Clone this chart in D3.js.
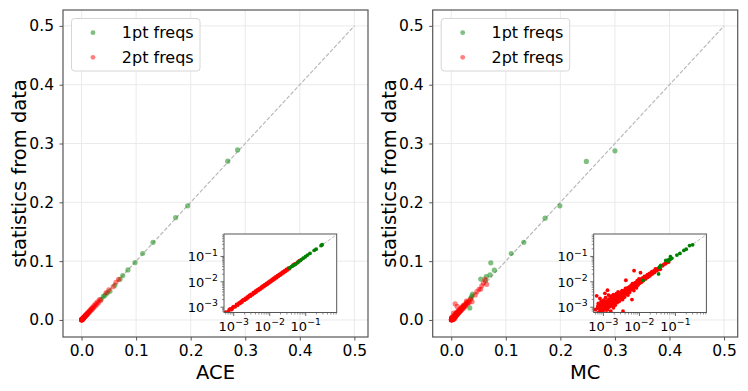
<!DOCTYPE html>
<html>
<head>
<meta charset="utf-8">
<title>ACE / MC statistics</title>
<script src="https://d3js.org/d3.v7.min.js"></script>
<style>
  body { margin: 0; background: #fff; }
  text { font-family: "DejaVu Sans", sans-serif; fill: #000; }
</style>
</head>
<body>
<script>
var w = 748, h = 391;

var ticks = [0, 0.1, 0.2, 0.3, 0.4, 0.5];
var logTicks = [1e-3, 1e-2, 1e-1];
var logTickExp = ["\u22123", "\u22122", "\u22121"];
var xLabels = ["ACE", "MC"];
var yLabel = "statistics from data";
var legendLabels = ["1pt freqs", "2pt freqs"];

// [model, data] pairs
var ace1pt = [[0.036,0.035],[0.040,0.040],[0.043,0.042],[0.047,0.046],[0.052,0.049],[0.061,0.059],
  [0.0705,0.069],[0.0755,0.0755],[0.085,0.085],[0.098,0.0975],[0.112,0.113],[0.131,0.132],
  [0.1725,0.174],[0.1945,0.194],[0.268,0.270],[0.286,0.289]];

var ace2pt = [[0.0001,0.0001],[0.0002,0.0002],[0.0003,0.0003],[0.0004,0.0004],
  [0.0005,0.00053],[0.00055,0.0005],[0.0006,0.00064],[0.00065,0.00061],[0.0007,0.00065],[0.00075,0.0008],
  [0.0008,0.00086],[0.00085,0.0008],[0.0009,0.00085],[0.00095,0.001],[0.001,0.00106],[0.0011,0.00103],
  [0.0012,0.00128],[0.0013,0.00122],[0.0014,0.00149],[0.0015,0.0014],[0.0016,0.0017],[0.0017,0.00159],
  [0.0018,0.00192],[0.002,0.00188],[0.0021,0.00224],[0.0022,0.00207],[0.0024,0.00256],[0.0025,0.00235],
  [0.0027,0.00288],[0.0029,0.00272],[0.003,0.0032],[0.0033,0.0031],[0.0035,0.00373],[0.0037,0.00348],
  [0.004,0.00426],[0.0042,0.00394],[0.0045,0.0048],[0.0048,0.00452],[0.0051,0.00542],[0.0054,0.00508],
  [0.0058,0.00617],[0.0061,0.00574],[0.0065,0.00692],[0.0069,0.00649],[0.0073,0.00776],[0.0077,0.00725],
  [0.0082,0.00872],[0.0087,0.00819],[0.0092,0.00978],[0.0097,0.00913],[0.0103,0.01095],[0.0109,0.01026],
  [0.0116,0.01232],[0.0123,0.01158],[0.013,0.01381],[0.0138,0.013],[0.0146,0.01551],[0.0155,0.0146],
  [0.0164,0.01742],[0.0174,0.01639],[0.0184,0.01955],[0.0195,0.01837],[0.0207,0.022],[0.0219,0.02065],
  [0.0232,0.02465],[0.0246,0.0232],[0.026,0.0276],[0.0276,0.026],[0.0292,0.0309],[0.031,0.0293],
  [0.0328,0.0347],[0.0348,0.0329],[0.045,0.0462],[0.050,0.0512],[0.058,0.0565],[0.063,0.064],[0.068,0.069]];

var mc1pt = [[0.0126,0.0113],[0.034,0.0205],[0.0357,0.0368],[0.0375,0.0400],[0.039,0.044],[0.054,0.0695],
  [0.0625,0.0666],[0.064,0.0735],[0.071,0.0765],[0.079,0.0847],[0.0725,0.0971],[0.110,0.113],
  [0.133,0.132],[0.172,0.173],[0.199,0.194],[0.2476,0.2695],[0.300,0.2876]];

var mc2pt = [[0.0002,0.0003],[0.0003,0.0002],[0.0004,0.0006],[0.0005,0.0004],[0.0005,0.0009],
  [0.0006,0.0008],[0.00065,0.0028],[0.0007,0.0006],[0.0007,0.0011],[0.0008,0.0009],[0.0008,0.0022],
  [0.0008,0.0007],[0.0009,0.0013],[0.0009,0.0008],[0.0010,0.0010],[0.0010,0.0015],[0.0011,0.0009],
  [0.0011,0.0035],[0.0011,0.0012],[0.0012,0.0017],[0.0012,0.0006],[0.0012,0.0010],[0.0013,0.0013],
  [0.0013,0.0047],[0.0013,0.0008],[0.0014,0.0020],[0.0014,0.0012],[0.0015,0.0015],[0.0016,0.0011],
  [0.0016,0.0007],[0.0016,0.0019],[0.0017,0.0014],[0.0018,0.0024],[0.0018,0.0016],[0.0019,0.00095],
  [0.0020,0.0021],[0.0021,0.0017],[0.0022,0.0028],[0.0023,0.0020],[0.0024,0.0015],[0.0025,0.0026],
  [0.0026,0.0033],[0.0027,0.0022],[0.0028,0.0030],[0.0030,0.0025],[0.0031,0.0038],[0.0032,0.0029],
  [0.0034,0.0020],[0.0035,0.0034],[0.0035,0.0007],[0.0036,0.0044],[0.0038,0.0032],[0.0040,0.0041],
  [0.0042,0.0115],[0.0042,0.0035],[0.0044,0.0050],[0.0046,0.0040],[0.0048,0.0030],[0.0050,0.0052],
  [0.0052,0.0062],[0.0055,0.0046],[0.0057,0.0058],[0.0060,0.0073],[0.0062,0.0020],[0.0063,0.0055],
  [0.0066,0.0067],[0.0068,0.0080],[0.0071,0.0275],[0.0072,0.0060],[0.0075,0.0078],[0.0078,0.0092],
  [0.0080,0.0068],[0.0084,0.0086],[0.0088,0.0100],[0.0090,0.0074],[0.0094,0.0096],[0.0098,0.0110],
  [0.0102,0.0088],[0.0106,0.0105],[0.0107,0.0230],[0.0110,0.0125],[0.0115,0.0098],[0.0120,0.0122],
  [0.0125,0.0140],[0.0130,0.0112],[0.0135,0.0136],[0.0142,0.0155],[0.0148,0.0130],[0.0155,0.0160],
  [0.0162,0.0178],[0.0170,0.0150],[0.0178,0.0182],[0.0185,0.0200],[0.0195,0.0172],[0.0205,0.0210],
  [0.0215,0.0232],[0.0225,0.0205],[0.0235,0.0240],[0.0248,0.0262],[0.0260,0.0235],[0.0272,0.0280],
  [0.0285,0.0300],[0.0300,0.0275],[0.0318,0.0325],[0.0380,0.0310],[0.0470,0.0480],[0.0510,0.0520],
  [0.0540,0.0525],[0.0590,0.0630],[0.0620,0.0690],[0.0650,0.0605],
  [0.00062,0.0005],[0.00068,0.0009],[0.00072,0.0014],[0.00078,0.0006],[0.00083,0.0012],[0.00087,0.0017],
  [0.00092,0.0011],[0.00096,0.0007],[0.00102,0.0019],[0.00105,0.0008],[0.00108,0.0013],[0.00115,0.0024],
  [0.00118,0.0011],[0.00122,0.0014],[0.00127,0.0009],[0.00132,0.0018],[0.00138,0.0030],[0.00142,0.0010],
  [0.00147,0.0016],[0.00152,0.0022],[0.00158,0.0013],[0.00163,0.0027],[0.00168,0.0017],[0.00175,0.0012],
  [0.00182,0.0020],[0.00188,0.0031],[0.00195,0.0014],[0.00205,0.0025],[0.00212,0.0012],[0.00218,0.0019],
  [0.00228,0.0034],[0.00235,0.0024],[0.00245,0.0018],[0.00255,0.0040],[0.00265,0.0029],[0.00275,0.0017],
  [0.00285,0.0036],[0.00295,0.0022],[0.0031,0.0031],[0.0033,0.0045],[0.0034,0.0027],[0.0037,0.0038],
  [0.0039,0.0025],[0.0041,0.0055],[0.0043,0.0042],[0.0045,0.0033],[0.0047,0.0058],[0.0049,0.0044],
  [0.0053,0.0038],[0.0056,0.0068],[0.0059,0.0050],[0.0064,0.0085],[0.0067,0.0059],[0.0070,0.0045],
  [0.0074,0.0088],[0.0079,0.0075],[0.0083,0.0058],[0.0087,0.0112],[0.0092,0.0084],[0.0097,0.0130],
  [0.0104,0.0095],[0.0112,0.0108],[0.0118,0.0135],[0.0128,0.0123],[0.0138,0.0165],[0.0145,0.0142],
  [0.0158,0.0148],[0.0168,0.0190],[0.0182,0.0168],[0.0192,0.0215],[0.0210,0.0195],[0.0222,0.0250],
  [0.0240,0.0225],[0.0265,0.0255],[0.0278,0.0320],[0.0295,0.0288],[0.0330,0.0300],[0.0355,0.0350],
  [0.0440,0.0425],[0.0560,0.0580]];

var green = "#008000", red = "#ff0000";

var svg = d3.select("body").append("svg")
  .attr("width", w).attr("height", h);

function panel(i, ax0, pts1, pts2, xlab) {
  var ax1 = ax0 + 305, ay0 = 10, ay1 = 337;
  var x = d3.scaleLinear().domain([-0.034, 0.525]).range([ax0, ax1]);
  var y = d3.scaleLinear().domain([-0.029, 0.527]).range([ay1, ay0]);
  var g = svg.append("g");

  // grid
  g.selectAll(".gx").data(ticks).enter().append("line")
    .attr("x1", d => x(d)).attr("x2", d => x(d))
    .attr("y1", ay0).attr("y2", ay1)
    .attr("stroke", "#e8e8e8").attr("stroke-width", 0.9);
  g.selectAll(".gy").data(ticks).enter().append("line")
    .attr("y1", d => y(d)).attr("y2", d => y(d))
    .attr("x1", ax0).attr("x2", ax1)
    .attr("stroke", "#e8e8e8").attr("stroke-width", 0.9);

  // diagonal
  g.append("line")
    .attr("x1", x(0)).attr("y1", y(0)).attr("x2", x(0.5)).attr("y2", y(0.5))
    .attr("stroke", "#b8b8b8").attr("stroke-width", 1.2).attr("stroke-dasharray", "4,1.8");

  g.selectAll(".p1").data(pts1).enter().append("circle")
    .attr("cx", d => x(d[0])).attr("cy", d => y(d[1])).attr("r", 2.6)
    .attr("fill", green).attr("fill-opacity", 0.5);
  g.selectAll(".p2").data(pts2).enter().append("circle")
    .attr("cx", d => x(d[0])).attr("cy", d => y(d[1])).attr("r", 2.6)
    .attr("fill", red).attr("fill-opacity", 0.5);

  // axes
  var xa = g.append("g").attr("transform", "translate(0," + ay1 + ")")
    .call(d3.axisBottom(x).tickValues(ticks).tickFormat(d3.format(".1f")).tickSize(3.5).tickPadding(4.5));
  var ya = g.append("g").attr("transform", "translate(" + ax0 + ",0)")
    .call(d3.axisLeft(y).tickValues(ticks).tickFormat(d3.format(".1f")).tickSize(3.5).tickPadding(5.5));
  [xa, ya].forEach(function(a) {
    a.select(".domain").remove();
    a.selectAll("line").attr("stroke", "#555");
    a.selectAll("text").attr("font-size", "15.5px").attr("font-family", "DejaVu Sans").attr("fill", "#000");
  });

  g.append("rect").attr("x", ax0).attr("y", ay0).attr("width", ax1 - ax0).attr("height", ay1 - ay0)
    .attr("fill", "none").attr("stroke", "#555").attr("stroke-width", 1.2);

  g.append("text").attr("x", (ax0 + ax1) / 2).attr("y", 378.5)
    .attr("text-anchor", "middle").attr("font-size", "19.5px").text(xlab);
  g.append("text").attr("transform", "translate(" + (ax0 - 37) + "," + ((ay0 + ay1) / 2) + ") rotate(-90)")
    .attr("text-anchor", "middle").attr("font-size", "19.5px").text(yLabel);

  // legend
  var lg = g.append("g").attr("transform", "translate(" + (ax0 + 8.5) + ",18.5)");
  lg.append("rect").attr("width", 128.5).attr("height", 52.5).attr("rx", 3)
    .attr("fill", "#fff").attr("stroke", "#d6d6d6").attr("stroke-width", 1);
  [green, red].forEach(function(c, k) {
    lg.append("circle").attr("cx", 21.5).attr("cy", 14.2 + k * 24.6).attr("r", 2.4)
      .attr("fill", c).attr("fill-opacity", 0.5);
    lg.append("text").attr("x", 50.3).attr("y", 14.2 + k * 24.6).attr("dy", "0.36em")
      .attr("font-size", "16px").text(legendLabels[k]);
  });

  // inset, log-log
  var ix0 = ax0 + 161, ix1 = ix0 + 112.7, iy0 = 234, iy1 = 312.5;
  var lx = d3.scaleLog().domain([Math.pow(10, -3.27), Math.pow(10, -0.14)]).range([ix0, ix1]);
  var ly = d3.scaleLog().domain([Math.pow(10, -3.21), Math.pow(10, -0.115)]).range([iy1, iy0]);
  var ins = svg.append("g");
  ins.append("rect").attr("x", ix0).attr("y", iy0).attr("width", ix1 - ix0).attr("height", iy1 - iy0)
    .attr("fill", "#fff");
  var cid = "clip" + i;
  ins.append("clipPath").attr("id", cid).append("rect")
    .attr("x", ix0).attr("y", iy0).attr("width", ix1 - ix0).attr("height", iy1 - iy0);
  var pg = ins.append("g").attr("clip-path", "url(#" + cid + ")");
  pg.append("line")
    .attr("x1", lx(1e-4)).attr("y1", ly(1e-4)).attr("x2", lx(1)).attr("y2", ly(1))
    .attr("stroke", "#bdbdbd").attr("stroke-width", 1).attr("stroke-dasharray", "3.7,1.6");
  pg.selectAll(".q2").data(pts2).enter().append("circle")
    .attr("cx", d => lx(d[0])).attr("cy", d => ly(d[1])).attr("r", 1.9).attr("fill", red);
  pg.selectAll(".q1").data(pts1).enter().append("circle")
    .attr("cx", d => lx(d[0])).attr("cy", d => ly(d[1])).attr("r", 1.9).attr("fill", green);

  // minor ticks
  var minor = [];
  [-4, -3, -2, -1].forEach(function(e) {
    for (var k = 2; k <= 9; k++) minor.push(k * Math.pow(10, e));
  });
  var mx = minor.filter(v => v >= lx.domain()[0] && v <= lx.domain()[1]);
  var my = minor.filter(v => v >= ly.domain()[0] && v <= ly.domain()[1]);
  ins.selectAll(".mx").data(mx).enter().append("line")
    .attr("x1", d => lx(d)).attr("x2", d => lx(d)).attr("y1", iy1).attr("y2", iy1 + 2)
    .attr("stroke", "#444").attr("stroke-width", 0.6);
  ins.selectAll(".my").data(my).enter().append("line")
    .attr("y1", d => ly(d)).attr("y2", d => ly(d)).attr("x1", ix0).attr("x2", ix0 - 2)
    .attr("stroke", "#444").attr("stroke-width", 0.6);
  ins.selectAll(".Mx").data(logTicks).enter().append("line")
    .attr("x1", d => lx(d)).attr("x2", d => lx(d)).attr("y1", iy1).attr("y2", iy1 + 3.5)
    .attr("stroke", "#444").attr("stroke-width", 0.8);
  ins.selectAll(".My").data(logTicks).enter().append("line")
    .attr("y1", d => ly(d)).attr("y2", d => ly(d)).attr("x1", ix0).attr("x2", ix0 - 3.5)
    .attr("stroke", "#444").attr("stroke-width", 0.8);

  function logLabel(sel) {
    sel.append("tspan").attr("font-size", "13px").text("10");
    sel.append("tspan").attr("font-size", "9.3px").attr("dy", "-0.6em").text((d, k) => logTickExp[k]);
  }
  ins.selectAll(".lx").data(logTicks).enter().append("text")
    .attr("x", d => lx(d)).attr("y", 330.5).attr("text-anchor", "middle")
    .call(logLabel);
  ins.selectAll(".ly").data(logTicks).enter().append("text")
    .attr("x", ix0 - 6).attr("y", d => ly(d) + 4.7).attr("text-anchor", "end")
    .call(logLabel);

  ins.append("rect").attr("x", ix0).attr("y", iy0).attr("width", ix1 - ix0).attr("height", iy1 - iy0)
    .attr("fill", "none").attr("stroke", "#555").attr("stroke-width", 1);
}

panel(0, 63, ace1pt, ace2pt, xLabels[0]);
panel(1, 432.7, mc1pt, mc2pt, xLabels[1]);
</script>
</body>
</html>
